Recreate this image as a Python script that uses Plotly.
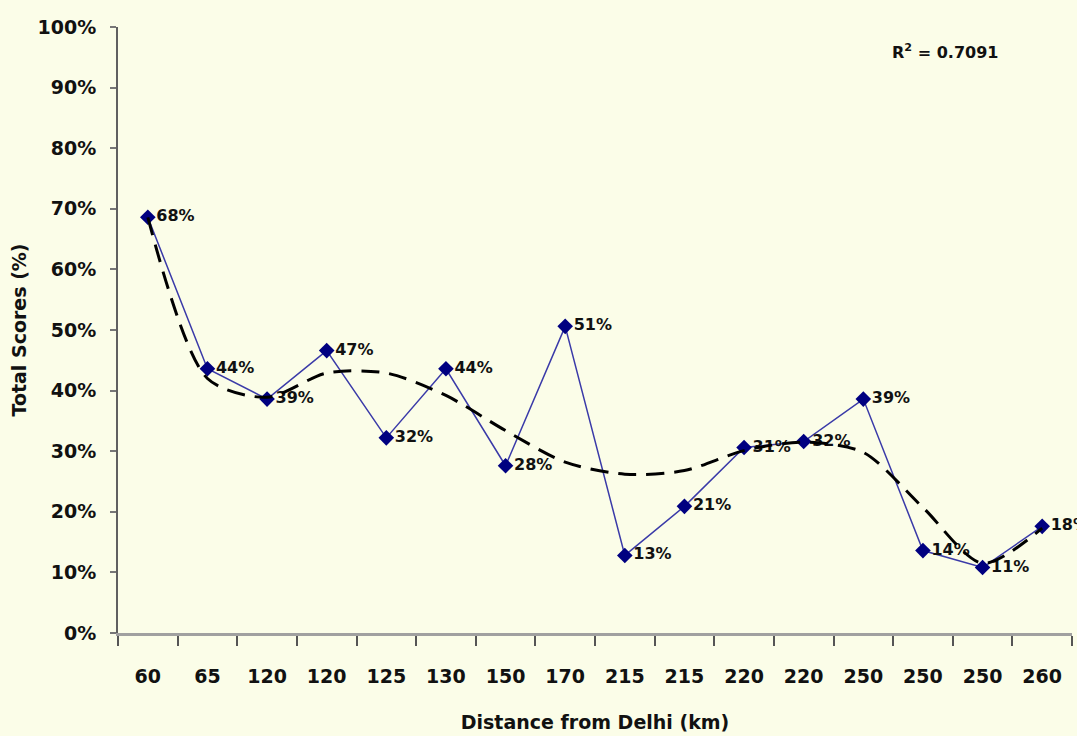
import plotly.graph_objects as go

distances = ["60", "65", "120", "120", "125", "130", "150", "170",
             "215", "215", "220", "220", "250", "250", "250", "260"]
scores = [68.6, 43.6, 38.6, 46.6, 32.2, 43.6, 27.6, 50.6,
          12.8, 20.9, 30.6, 31.6, 38.6, 13.6, 10.8, 17.6]
score_labels = ["68%", "44%", "39%", "47%", "32%", "44%", "28%", "51%",
                "13%", "21%", "31%", "32%", "39%", "14%", "11%", "18%"]
trend = [68.6, 42.0, 38.9, 42.9, 42.9, 39.2, 33.4, 28.2,
         26.2, 26.8, 30.1, 31.5, 29.8, 20.7, 11.5, 17.3]
r_squared = "0.7091"

idx = list(range(len(distances)))
FONT = "DejaVu Sans"
BG = "#FBFDE8"

fig = go.Figure()
fig.add_trace(go.Scatter(
    x=idx, y=scores, mode="lines+markers+text",
    line=dict(color="#3A3AA8", width=1.5),
    marker=dict(symbol="diamond", size=12, color="#000080"),
    text=score_labels, textposition="middle right",
    textfont=dict(family=FONT, size=16, color="#111111", weight="bold"),
    cliponaxis=False, showlegend=False, hoverinfo="skip",
))
fig.add_trace(go.Scatter(
    x=idx, y=trend, mode="lines",
    line=dict(color="#000000", width=3, dash="18px,10px", shape="spline", smoothing=0.8),
    showlegend=False, hoverinfo="skip",
))

fig.update_layout(
    width=1077, height=736,
    paper_bgcolor=BG, plot_bgcolor=BG,
    margin=dict(l=118, r=5, t=27, b=103),
    font=dict(family=FONT, color="#111111"),
    annotations=[dict(
        text=f"<b>R<sup>2</sup> = {r_squared}</b>",
        xref="paper", yref="paper", x=0.867, y=0.959,
        xanchor="center", yanchor="middle", showarrow=False,
        font=dict(family=FONT, size=16, color="#111111"),
    )],
)
fig.update_xaxes(
    range=[-0.5, 15.5], tickmode="array", tickvals=idx, ticktext=distances,
    ticks="", showgrid=False, zeroline=False,
    showline=True, linecolor="#A0A0A0", linewidth=3,
    ticklabelstandoff=24,
    tickfont=dict(family=FONT, size=19, color="#111111", weight="bold"),
    minor=dict(tickmode="linear", tick0=-0.5, dtick=1, ticks="outside",
               ticklen=10, tickwidth=1.5, tickcolor="#555555", showgrid=False),
    title=dict(text="<b>Distance from Delhi (km)</b>", standoff=30,
               font=dict(family=FONT, size=19, color="#111111")),
)
fig.update_yaxes(
    range=[0, 100], dtick=10, ticksuffix="%",
    ticks="outside", ticklen=6, tickwidth=1.5, tickcolor="#777777",
    showgrid=False, zeroline=False,
    showline=True, linecolor="#606060", linewidth=2,
    ticklabelstandoff=10,
    tickfont=dict(family=FONT, size=19, color="#111111", weight="bold"),
    title=dict(text="<b>Total Scores (%)</b>", standoff=6,
               font=dict(family=FONT, size=19, color="#111111")),
)

fig.write_html(
    "out.html",
    config={"displayModeBar": False},
    post_script="document.body.style.margin='0';document.body.style.background='#FBFDE8';",
)
